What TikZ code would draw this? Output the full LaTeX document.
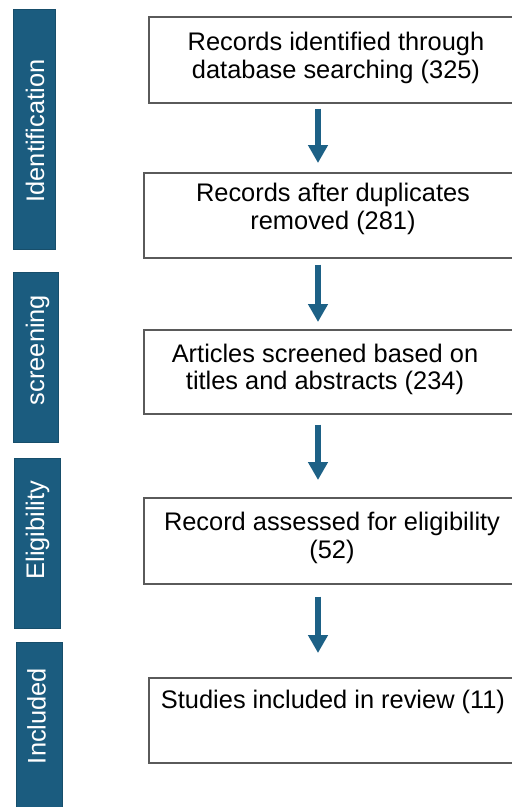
\documentclass[tikz,border=0pt]{standalone}
\usepackage{fontspec}
\setmainfont{Liberation Sans}
\usetikzlibrary{arrows.meta}
\definecolor{barblue}{HTML}{1B5C7F}
\definecolor{baredge}{HTML}{174E6B}
\definecolor{arrblue}{HTML}{1D6186}
\definecolor{boxedge}{HTML}{5A5A5A}
\tikzset{
  stagebar/.style={draw=baredge, line width=0.8pt, fill=barblue, minimum width=42pt, anchor=north west, inner sep=0pt},
  stagetext/.style={rotate=90, text=white, inner sep=0pt, font=\fontsize{25.4}{27.5}\selectfont},
  flowbox/.style={draw=boxedge, line width=1.6pt, fill=white, anchor=north west, inner sep=0pt, minimum width=382pt},
  flowtext/.style={align=center, inner sep=0pt, font=\fontsize{25.4}{27.5}\selectfont},
  flowarrow/.style={draw=arrblue, line width=5.5pt, -{Triangle[length=18pt,width=19pt]}}
}
\begin{document}
\begin{tikzpicture}[x=1pt,y=-1pt]
\useasboundingbox (0,0) rectangle (512,807);
\clip (0,0) rectangle (512,807);
% stage bars
\node[stagebar, minimum height=240pt] (barid) at (13,9) {};
\node[stagebar, minimum height=170pt, minimum width=45pt] (barscr) at (13,272) {};
\node[stagebar, minimum height=170pt, minimum width=46pt] (barelig) at (14,458) {};
\node[stagebar, minimum height=190pt, minimum width=46pt] (barinc) at (16,642) {};
\node[stagetext] (tid) at (35,131) {Identification};
\node[stagetext] (tscr) at (37.5,350) {screening};
\node[stagetext] (telig) at (37.5,530) {Eligibility};
\node[stagetext] (tinc) at (36.5,716) {Included};
% boxes
\node[flowbox, minimum height=86pt] (b1) at (148,16) {};
\node[flowbox, minimum height=85pt] (b2) at (143,172) {};
\node[flowbox, minimum height=84pt] (b3) at (143,329) {};
\node[flowbox, minimum height=86pt] (b4) at (143,497) {};
\node[flowbox, minimum height=85pt] (b5) at (148,677) {};
% texts
\node[flowtext] (t1) at (336,58) {Records identified through\\database searching (325)};
\node[flowtext] (t2) at (333,209) {Records after duplicates\\removed (281)};
\node[flowtext] (t3) at (325,369.5) {Articles screened based on\\titles and abstracts (234)};
\node[flowtext] (t4) at (332,538) {Record assessed for eligibility\\(52)};
\node[flowtext] (t5) at (333,702) {Studies included in review (11)};
% arrows
\coordinate (ax) at (318,0);
\draw[flowarrow, shorten <=5pt, shorten >=9pt] (b1.south -| ax) -- (b2.north -| ax);
\draw[flowarrow, shorten <=6pt, shorten >=7pt] (b2.south -| ax) -- (b3.north -| ax);
\draw[flowarrow, shorten <=10pt, shorten >=17pt] (b3.south -| ax) -- (b4.north -| ax);
\draw[flowarrow, shorten <=12pt, shorten >=24pt] (b4.south -| ax) -- (b5.north -| ax);
\end{tikzpicture}
\end{document}
